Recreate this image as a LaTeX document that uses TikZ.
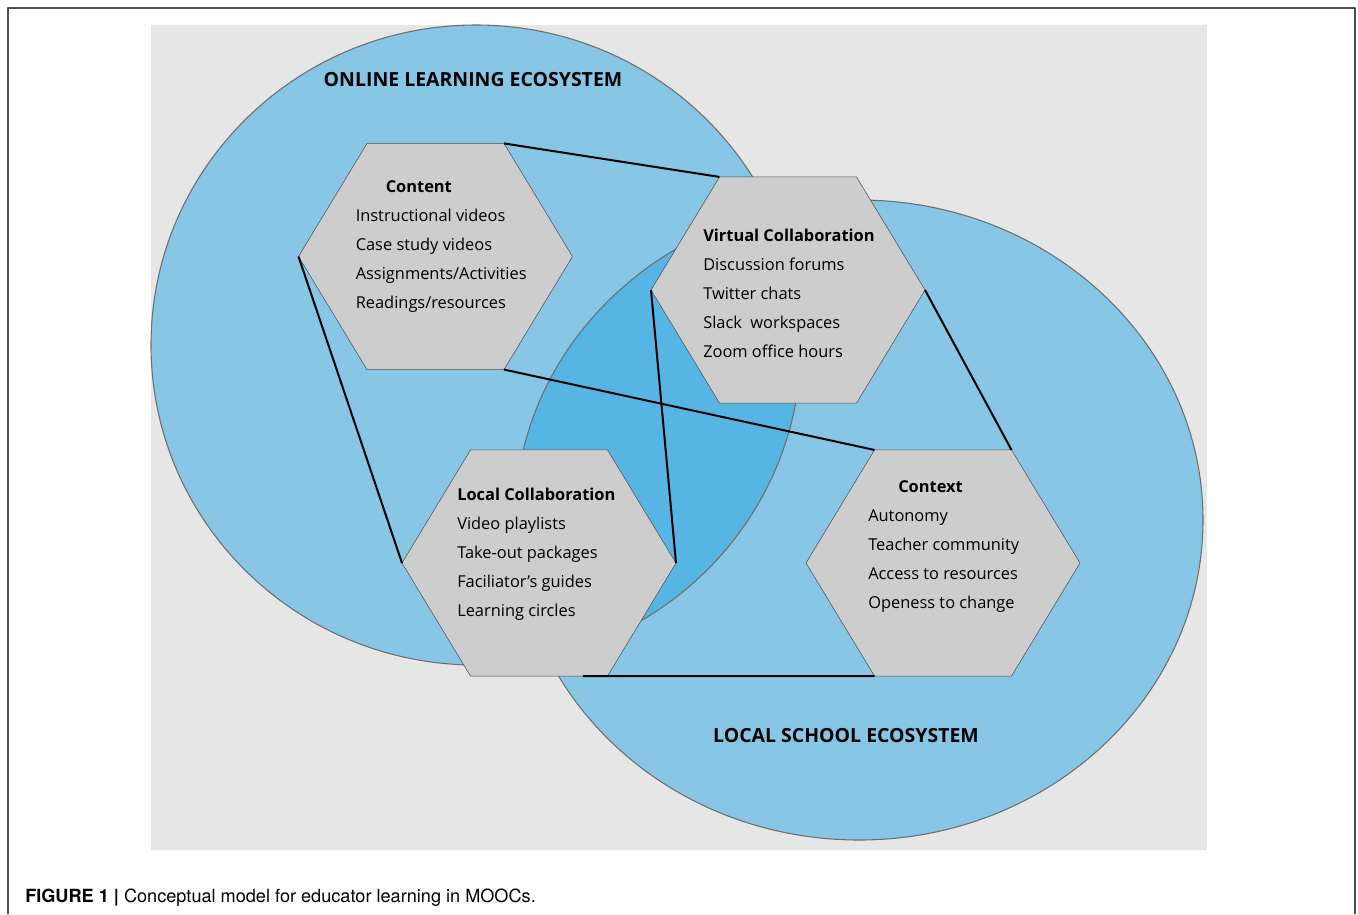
\documentclass[tikz,border=0pt]{standalone}
\usepackage{fontspec}
\setmainfont{Open Sans}
\newfontfamily\captionfont{TeX Gyre Heros}
\usetikzlibrary{shapes.geometric, calc, positioning}

\definecolor{bgGray}{RGB}{230,230,230}
\definecolor{ecoBlue}{RGB}{135,198,229}
\definecolor{overlapBlue}{RGB}{86,181,226}
\definecolor{hexGray}{RGB}{205,205,205}
\definecolor{rimGray}{RGB}{110,110,110}

\begin{document}
\begin{tikzpicture}[
    x = 0.75pt,
    y = -0.75pt,
    line join = round,
    hex/.style = {regular polygon, regular polygon sides = 6, minimum size = 205.5pt, yscale = 0.953,
                  inner sep = 0pt, outer sep = 0pt, draw = rimGray!70!black, fill = hexGray},
    itemlist/.style = {anchor = north west, align = left, inner sep = 0pt,
                       font = \fontsize{12.3}{21.75}\selectfont},
    link/.style = {draw = black, line width = 1.5pt},
    ring/.style = {draw = rimGray, line width = 0.8pt},
    title/.style = {font = \fontsize{14.6}{17}\selectfont\bfseries}
]
\useasboundingbox (0,0) rectangle (1358,914);

% Frame and background
\draw[rimGray!70!black, line width = 1pt] (8,914) -- (8,8) -- (1355,8) -- (1355,914);
\fill[bgGray] (151,25) rectangle (1207,850);

% Ecosystems
\fill[ecoBlue] (476,345) ellipse [x radius = 325, y radius = 320];
\fill[ecoBlue] (859,520) ellipse [x radius = 344, y radius = 320];
\begin{scope}
    \clip (476,345) ellipse [x radius = 325, y radius = 320];
    \fill[overlapBlue] (859,520) ellipse [x radius = 344, y radius = 320];
\end{scope}
\draw[ring] (476,345) ellipse [x radius = 325, y radius = 320];
\draw[ring] (859,520) ellipse [x radius = 344, y radius = 320];

\node[title] (onlineTitle) at (473,80)  {ONLINE LEARNING ECOSYSTEM};
\node[title] (localTitle)  at (846,736) {LOCAL SCHOOL ECOSYSTEM};

% Hexagons
\node[hex] (content)    at (435.5,256.5) {};
\node[hex] (virtualCol) at (788,290)     {};
\node[hex] (localCol)   at (539,563)     {};
\node[hex] (context)    at (943,563)     {};

\node[itemlist] (contentTxt) at ($(content)+(-80,-76)$)
    {\hspace*{22.5pt}\textbf{Content}\\Instructional videos\\Case study videos\\Assignments/Activities\\Readings/resources};
\node[itemlist] (virtualTxt) at ($(virtualCol)+(-85,-61)$)
    {\textbf{Virtual Collaboration}\\Discussion forums\\Twitter chats\\Slack\ \ workspaces\\Zoom office hours};
\node[itemlist] (localTxt) at ($(localCol)+(-82,-75)$)
    {\textbf{Local Collaboration}\\Video playlists\\Take-out packages\\Faciliator’s guides\\Learning circles};
\node[itemlist] (contextTxt) at ($(context)+(-75,-83)$)
    {\hspace*{22.5pt}\textbf{Context}\\Autonomy\\Teacher community\\Access to resources\\Openess to change};

% Links
\coordinate (localFoot) at ($(localCol.240)!0.82!(localCol.300)$);

\draw[link] (content.60)     -- (virtualCol.120);
\draw[link] (content.180)    -- (localCol.180);
\draw[link] (content.300)    -- (context.120);
\draw[link] (virtualCol.180) -- (localCol.0);
\draw[link] (virtualCol.0)   -- (context.60);
\draw[link] (localFoot)      -- (context.240);

% Caption
\node[anchor = base west, inner sep = 0pt, font = \captionfont\fontsize{13.6}{15}\selectfont] (caption) at (25,902)
    {\textbf{FIGURE 1 |} Conceptual model for educator learning in MOOCs.};

\end{tikzpicture}
\end{document}
